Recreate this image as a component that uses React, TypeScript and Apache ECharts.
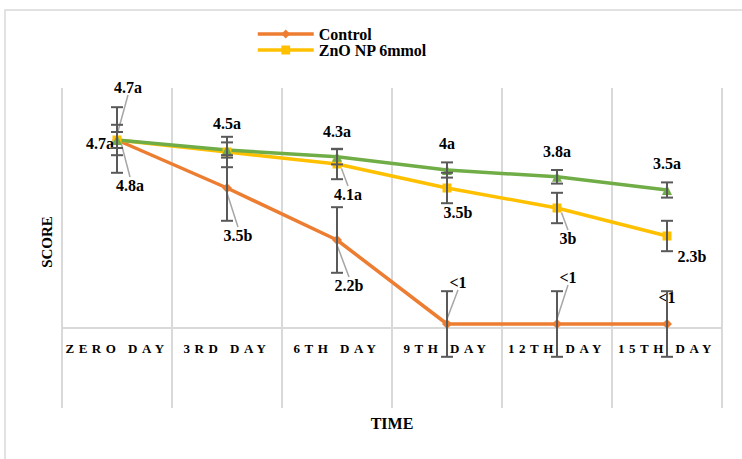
import React, { useEffect, useRef } from "react";
import * as echarts from "echarts";

const categories = ["ZERO DAY", "3RD DAY", "6TH DAY", "9TH DAY", "12TH DAY", "15TH DAY"];

const controlValues = [4.7, 3.5, 2.2, 0.1, 0.1, 0.1];
const znoValues = [4.7, 4.4, 4.1, 3.5, 3.0, 2.3];
const thirdValues = [4.7, 4.45, 4.28, 3.95, 3.78, 3.45];

const controlErrors = [0.82, 0.82, 0.82, 0.82, 0.82, 0.82];
const znoErrors = [0.38, 0.38, 0.38, 0.38, 0.38, 0.38];
const thirdErrors = [0.2, 0.19, 0.19, 0.19, 0.17, 0.19];

const controlLabels = ["4.7a", "3.5b", "2.2b", "<1", "<1", "<1"];
const znoLabels = ["4.8a", "", "4.1a", "3.5b", "3b", "2.3b"];
const thirdLabels = ["4.7a", "4.5a", "4.3a", "4a", "3.8a", "3.5a"];

// label placement (styling only)
const controlOffsets = [[-17, 3], [11, 47], [12, 45], [11, -42], [11, -47], [0, -27]];
const controlLeaders = [false, true, true, true, true, true];
const znoOffsets = [[13, 45], [0, 0], [11, 30], [11, 24], [11, 30], [25, 20]];
const znoLeaders = [true, false, true, false, true, false];
const thirdOffsets = [[11, -53], [0, -27], [0, -25], [0, -27], [0, -25], [0, -27]];
const thirdLeaders = [true, false, false, false, false, false];

const SERIF = "'Times New Roman', 'Liberation Serif', 'DejaVu Serif', serif";

const labelText = {
  color: "#000",
  fontFamily: SERIF,
  fontWeight: "bold" as const,
  fontSize: 16,
};

function lineSeries(
  name: string,
  values: number[],
  labels: string[],
  offsets: number[][],
  leaders: boolean[],
  color: string,
  symbol: string,
  symbolSize: number
) {
  return {
    type: "line",
    name,
    xAxisIndex: 0,
    yAxisIndex: 0,
    z: 2,
    symbol,
    symbolSize,
    showAllSymbol: true,
    lineStyle: { color, width: 3.5 },
    itemStyle: { color },
    label: { show: true, position: "inside", ...labelText },
    labelLine: { show: false, lineStyle: { color: "#a6a6a6", width: 1.5 } },
    labelLayout: (p: any) => ({ dx: offsets[p.dataIndex][0], dy: offsets[p.dataIndex][1] }),
    data: values.map((v, i) => ({
      value: v,
      label: { show: labels[i] !== "", formatter: labels[i] },
      labelLine: { show: leaders[i] },
    })),
  };
}

function errorSeries(name: string, values: number[], errors: number[]) {
  return {
    type: "custom",
    name,
    xAxisIndex: 0,
    yAxisIndex: 0,
    z: 4,
    silent: true,
    clip: false,
    encode: { x: 0, y: 1 },
    data: values.map((v, i) => [i, v, errors[i]]),
    renderItem: (_params: any, api: any) => {
      const x = api.value(0);
      const v = api.value(1);
      const e = api.value(2);
      const top = api.coord([x, v + e]);
      const bot = api.coord([x, v - e]);
      const hw = 6;
      const style = { stroke: "#595959", lineWidth: 2 };
      return {
        type: "group",
        children: [
          { type: "line", shape: { x1: top[0], y1: top[1], x2: bot[0], y2: bot[1] }, style },
          { type: "line", shape: { x1: top[0] - hw, y1: top[1], x2: top[0] + hw, y2: top[1] }, style },
          { type: "line", shape: { x1: bot[0] - hw, y1: bot[1], x2: bot[0] + hw, y2: bot[1] }, style },
        ],
      };
    },
  };
}

export default function App() {
  const ref = useRef<HTMLDivElement>(null);

  useEffect(() => {
    if (!ref.current) return;
    const el = ref.current;
    const chart = echarts.init(el, undefined, { renderer: "svg" });
    const gridLine = { color: "#d9d9d9", width: 2 };
    const option: any = {
      animation: false,
      backgroundColor: "#ffffff",
      graphic: [
        {
          type: "rect",
          silent: true,
          z: -10,
          shape: { x: 5, y: 10, width: 800, height: 520 },
          style: { fill: "none", stroke: "#d9d9d9", lineWidth: 1.5 },
        },
        {
          type: "text",
          silent: true,
          x: 47,
          y: 242,
          rotation: Math.PI / 2,
          style: {
            text: "SCORE",
            fill: "#000",
            font: `bold 15px ${SERIF}`,
            align: "center",
            verticalAlign: "middle",
          },
        },
      ],
      legend: {
        data: [
          { name: "Control", lineStyle: { width: 3.5 } },
          { name: "ZnO NP 6mmol", lineStyle: { width: 3.5 } },
        ],
        orient: "vertical",
        left: 251,
        top: 21,
        itemWidth: 56,
        itemHeight: 11,
        itemGap: 0,
        selectedMode: false,
        lineStyle: { width: 3.5 },
        textStyle: { ...labelText, fontSize: 16, lineHeight: 13 },
      },
      grid: [
        { left: 62, right: 20, top: 88, bottom: 131, outerBoundsMode: "none" },
        { left: 62, right: 20, top: 328, bottom: 51, outerBoundsMode: "none" },
      ],
      xAxis: [
        {
          type: "category",
          gridIndex: 0,
          data: categories,
          boundaryGap: true,
          axisLine: { show: true, onZero: false, lineStyle: gridLine },
          axisTick: { show: false },
          splitLine: { show: true, lineStyle: gridLine },
          axisLabel: {
            interval: 0,
            margin: 14,
            color: "#000",
            fontFamily: SERIF,
            fontWeight: "bold",
            fontSize: 13,
          },
        },
        {
          type: "category",
          gridIndex: 1,
          data: categories,
          boundaryGap: true,
          axisLine: { show: false, onZero: false },
          axisTick: { show: false },
          axisLabel: { show: false },
          splitLine: { show: true, lineStyle: gridLine },
          name: "TIME",
          nameLocation: "middle",
          nameGap: 7,
          nameTextStyle: { ...labelText },
        },
      ],
      yAxis: [
        {
          type: "value",
          gridIndex: 0,
          min: 0,
          max: 6,
          axisLabel: { show: false },
          axisLine: { show: false },
          axisTick: { show: false },
          splitLine: { show: false },
        },
        {
          type: "value",
          gridIndex: 1,
          min: 0,
          max: 1,
          axisLabel: { show: false },
          axisLine: { show: false },
          axisTick: { show: false },
          splitLine: { show: false },
        },
      ],
      series: [
        lineSeries("Control", controlValues, controlLabels, controlOffsets, controlLeaders, "#ED7D31", "diamond", 10),
        lineSeries("ZnO NP 6mmol", znoValues, znoLabels, znoOffsets, znoLeaders, "#FFC000", "rect", 9),
        lineSeries("Series 3", thirdValues, thirdLabels, thirdOffsets, thirdLeaders, "#70AD47", "triangle", 10),
        errorSeries("Control error", controlValues, controlErrors),
        errorSeries("ZnO NP 6mmol error", znoValues, znoErrors),
        errorSeries("Series 3 error", thirdValues, thirdErrors),
      ],
    };
    chart.setOption(option);

    const spaceLabels = () => {
      el.querySelectorAll("text").forEach((t) => {
        if (categories.includes((t.textContent || "").trim())) {
          t.setAttribute("letter-spacing", "4.5");
        }
      });
    };
    chart.on("finished", spaceLabels);
    const timer = setTimeout(spaceLabels, 50);

    return () => {
      clearTimeout(timer);
      chart.dispose();
    };
  }, []);

  return (
    <div
      ref={ref}
      style={{ position: "absolute", left: 0, top: 0, width: 742, height: 459 }}
    />
  );
}
